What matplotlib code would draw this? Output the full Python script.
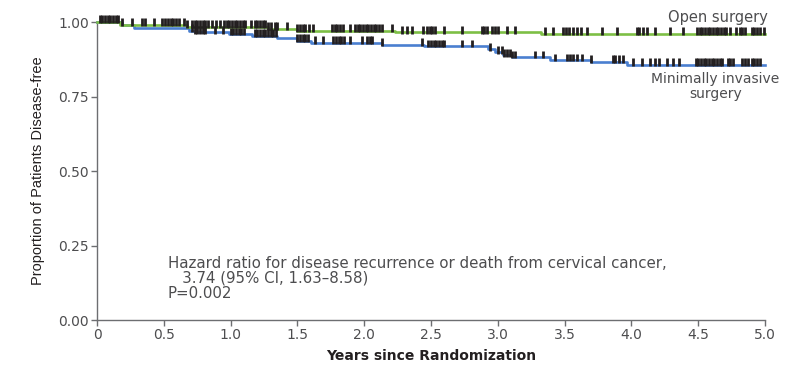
import matplotlib.pyplot as plt
import numpy as np

# Kaplan-Meier steps (time in years, proportion disease-free)
open_t = [0, 0.17, 0.67, 1.28, 1.50, 2.23, 3.32, 5.0]
open_s = [1.0, 0.990, 0.984, 0.977, 0.971, 0.965, 0.960, 0.960]

mis_t = [0, 0.19, 0.28, 0.69, 0.73, 0.99, 1.16, 1.35, 1.50, 1.60, 2.13, 2.45,
         2.93, 2.98, 3.04, 3.11, 3.39, 3.70, 3.97, 5.0]
mis_s = [1.0, 0.990, 0.979, 0.971, 0.965, 0.959, 0.953, 0.947, 0.937, 0.930,
         0.923, 0.919, 0.908, 0.898, 0.888, 0.882, 0.872, 0.866, 0.857, 0.857]

# censoring times
open_cens = [0.02, 0.04, 0.06, 0.08, 0.10, 0.12, 0.14, 0.16, 0.19, 0.26, 0.34, 0.36,
             0.43, 0.49, 0.51, 0.53, 0.55, 0.57, 0.59, 0.61, 0.65, 0.67, 0.71, 0.73,
             0.75, 0.77, 0.79, 0.81, 0.83, 0.86, 0.89, 0.92, 0.95, 0.97, 0.99, 1.01,
             1.03, 1.05, 1.07, 1.09, 1.11, 1.15, 1.18, 1.20, 1.22, 1.24, 1.26, 1.28,
             1.30, 1.33, 1.35, 1.42, 1.50, 1.52, 1.54, 1.56, 1.59, 1.62, 1.76, 1.78,
             1.80, 1.82, 1.84, 1.89, 1.93, 1.95, 1.97, 1.99, 2.01, 2.03, 2.05, 2.07,
             2.09, 2.11, 2.13, 2.21, 2.28, 2.32, 2.36, 2.44, 2.47, 2.49, 2.51, 2.53,
             2.60, 2.73, 2.88, 2.90, 2.92, 2.96, 2.98, 3.00, 3.07, 3.13, 3.35, 3.41,
             3.49, 3.51, 3.53, 3.56, 3.59, 3.62, 3.67, 3.78, 3.89, 4.04, 4.06, 4.09,
             4.12, 4.18, 4.29, 4.39, 4.49, 4.51, 4.53, 4.55, 4.57, 4.59, 4.61, 4.63,
             4.65, 4.67, 4.69, 4.71, 4.74, 4.78, 4.81, 4.83, 4.85, 4.90, 4.92, 4.94,
             4.96, 4.99]
mis_cens = [0.71, 0.73, 0.75, 0.77, 0.79, 0.81, 0.88, 0.94, 1.00, 1.02, 1.04, 1.06,
            1.08, 1.10, 1.18, 1.20, 1.22, 1.24, 1.26, 1.28, 1.30, 1.32, 1.34, 1.50,
            1.52, 1.54, 1.56, 1.58, 1.63, 1.69, 1.77, 1.79, 1.81, 1.83, 1.85, 1.89,
            1.98, 2.02, 2.04, 2.06, 2.13, 2.43, 2.48, 2.50, 2.52, 2.54, 2.56, 2.58,
            2.60, 2.73, 2.81, 2.94, 3.00, 3.03, 3.05, 3.07, 3.09, 3.11, 3.13, 3.28,
            3.34, 3.43, 3.52, 3.54, 3.56, 3.59, 3.63, 3.70, 3.86, 3.88, 3.91, 3.94,
            4.01, 4.08, 4.14, 4.18, 4.21, 4.27, 4.31, 4.36, 4.48, 4.50, 4.52, 4.54,
            4.56, 4.58, 4.60, 4.62, 4.64, 4.66, 4.68, 4.72, 4.74, 4.76, 4.83, 4.85,
            4.87, 4.90, 4.92, 4.94, 4.96]

xticks = [0, 0.5, 1.0, 1.5, 2.0, 2.5, 3.0, 3.5, 4.0, 4.5, 5.0]
xtick_labels = ["0", "0.5", "1.0", "1.5", "2.0", "2.5", "3.0", "3.5", "4.0", "4.5", "5.0"]
yticks = [0, 0.25, 0.5, 0.75, 1.0]
ytick_labels = ["0.00", "0.25", "0.50", "0.75", "1.00"]

GREEN = "#7dbf45"
BLUE = "#4a7fd0"
GRAY = "#6d6e71"
TEXT = "#4d4d4f"


def surv_at(t, times, vals):
    idx = np.searchsorted(times, t, side="right") - 1
    return np.array(vals)[idx]


fig = plt.figure(figsize=(7.85, 3.68), dpi=100)
ax = fig.add_axes([0.1236, 0.1304, 0.8509, 0.8098])

ax.step(mis_t, mis_s, where="post", color=BLUE, lw=1.9, clip_on=False, zorder=3)
ax.step(open_t, open_s, where="post", color=GREEN, lw=1.9, clip_on=False, zorder=3)

for cens, times, vals in [(open_cens, open_t, open_s), (mis_cens, mis_t, mis_s)]:
    c = np.array(cens)
    s = surv_at(c, times, vals)
    ax.vlines(c, s - 0.004, s + 0.022, color="#231f20", lw=2.0, clip_on=False, zorder=4)

ax.set_xlim(0, 5)
ax.set_ylim(0, 1)
ax.set_xticks(xticks)
ax.set_xticklabels(xtick_labels)
ax.set_yticks(yticks)
ax.set_yticklabels(ytick_labels)

for side in ["top", "right"]:
    ax.spines[side].set_visible(False)
for side in ["left", "bottom"]:
    ax.spines[side].set_color(GRAY)
    ax.spines[side].set_linewidth(1.0)
ax.tick_params(direction="out", length=4, width=1.0, color=GRAY,
               labelcolor=TEXT, labelsize=10, pad=2)

ax.set_xlabel("Years since Randomization", fontsize=10, fontweight="bold",
              color="#231f20", labelpad=5)
ax.set_ylabel("Proportion of Patients Disease-free", fontsize=10.5,
              family=["Liberation Sans Narrow", "Liberation Sans"], color="#231f20",
              labelpad=9)

ax.text(0.53, 0.215, "Hazard ratio for disease recurrence or death from cervical cancer,\n"
        "   3.74 (95% CI, 1.63\u20138.58)\nP=0.002", fontsize=10.8, color=TEXT,
        va="top", ha="left", linespacing=1.0)

ax.text(5.02, 1.015, "Open surgery", fontsize=10.5, color=TEXT, ha="right",
        va="center", clip_on=False)
ax.text(4.63, 0.785, "Minimally invasive\nsurgery", fontsize=10, color=TEXT,
        ha="center", va="center", multialignment="center", clip_on=False,
        linespacing=1.1)

fig.savefig("out.png", dpi=100)
